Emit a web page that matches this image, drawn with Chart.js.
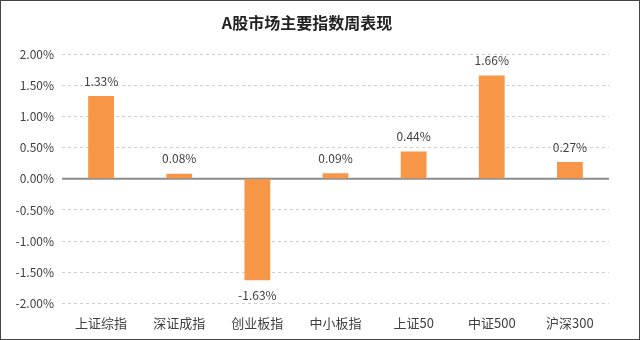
<!DOCTYPE html>
<html>
<head>
<meta charset="utf-8">
<script src="https://cdn.jsdelivr.net/npm/chart.js@4/dist/chart.umd.min.js"></script>
<style>
  html, body { margin: 0; padding: 0; background: #fff; }
  #box { width: 640px; height: 340px; box-sizing: border-box; border: 1px solid #444; position: relative; }
  #myChart { display: block; }
</style>
</head>
<body>
<div id="box"><canvas id="myChart" width="638" height="338"></canvas></div>
<script>
// index names and weekly change (%)
const indexNames = ['上证综指', '深证成指', '创业板指', '中小板指', '上证50', '中证500', '沪深300'];
const weeklyChange = [1.33, 0.08, -1.63, 0.09, 0.44, 1.66, 0.27];
const chartTitle = 'A股市场主要指数周表现';

const cjkFont = '"Noto Sans CJK SC", "DejaVu Sans", sans-serif';
const textColor = '#404040';

// solid zero line + % labels above / below each bar
const valueLabels = {
    id: 'valueLabels',
    beforeDatasetsDraw(chart) {
        const ctx = chart.ctx;
        const y0 = chart.scales.y.getPixelForValue(0);
        ctx.save();
        ctx.strokeStyle = '#8c8c8c';
        ctx.lineWidth = 2;
        ctx.beginPath();
        ctx.moveTo(chart.chartArea.left, y0);
        ctx.lineTo(chart.chartArea.right, y0);
        ctx.stroke();
        ctx.restore();
    },
    afterDatasetsDraw(chart) {
        const ctx = chart.ctx;
        const meta = chart.getDatasetMeta(0);
        ctx.save();
        ctx.font = '12px ' + cjkFont;
        ctx.fillStyle = textColor;
        ctx.textAlign = 'center';
        ctx.textBaseline = 'middle';
        meta.data.forEach((bar, i) => {
            const v = weeklyChange[i];
            const y = v >= 0 ? bar.y - 15 : bar.y + 15;
            ctx.fillText(v.toFixed(2) + '%', bar.x, y);
        });
        ctx.restore();
    }
};

const myChart = new Chart(document.getElementById('myChart'), {
    type: 'bar',
    data: {
        labels: indexNames,
        datasets: [{
            data: weeklyChange,
            backgroundColor: '#F79646',
            borderWidth: 0,
            barPercentage: 0.66,
            categoryPercentage: 0.5
        }]
    },
    options: {
        responsive: false,
        animation: false,
        layout: { padding: { top: 4, right: 30, bottom: 4, left: 4 } },
        plugins: {
            legend: { display: false },
            tooltip: { enabled: false },
            title: {
                display: true,
                text: chartTitle,
                color: '#222',
                font: { family: cjkFont, size: 16, weight: 'bold' },
                padding: { top: 8, bottom: 22 }
            }
        },
        scales: {
            y: {
                min: -2,
                max: 2,
                ticks: {
                    stepSize: 0.5,
                    color: textColor,
                    font: { family: cjkFont, size: 12 },
                    padding: 8,
                    callback: v => v.toFixed(2) + '%'
                },
                afterFit: s => { s.width = 57; },
                border: { display: false, dash: [3, 3] },
                grid: {
                    drawTicks: false,
                    color: ctx => ctx.tick.value === 0 ? 'rgba(0,0,0,0)' : '#d0d0d0'
                }
            },
            x: {
                ticks: {
                    color: textColor,
                    font: { family: cjkFont, size: 13 },
                    padding: 4
                },
                border: { display: false },
                grid: { display: false }
            }
        }
    },
    plugins: [valueLabels]
});
</script>
</body>
</html>
